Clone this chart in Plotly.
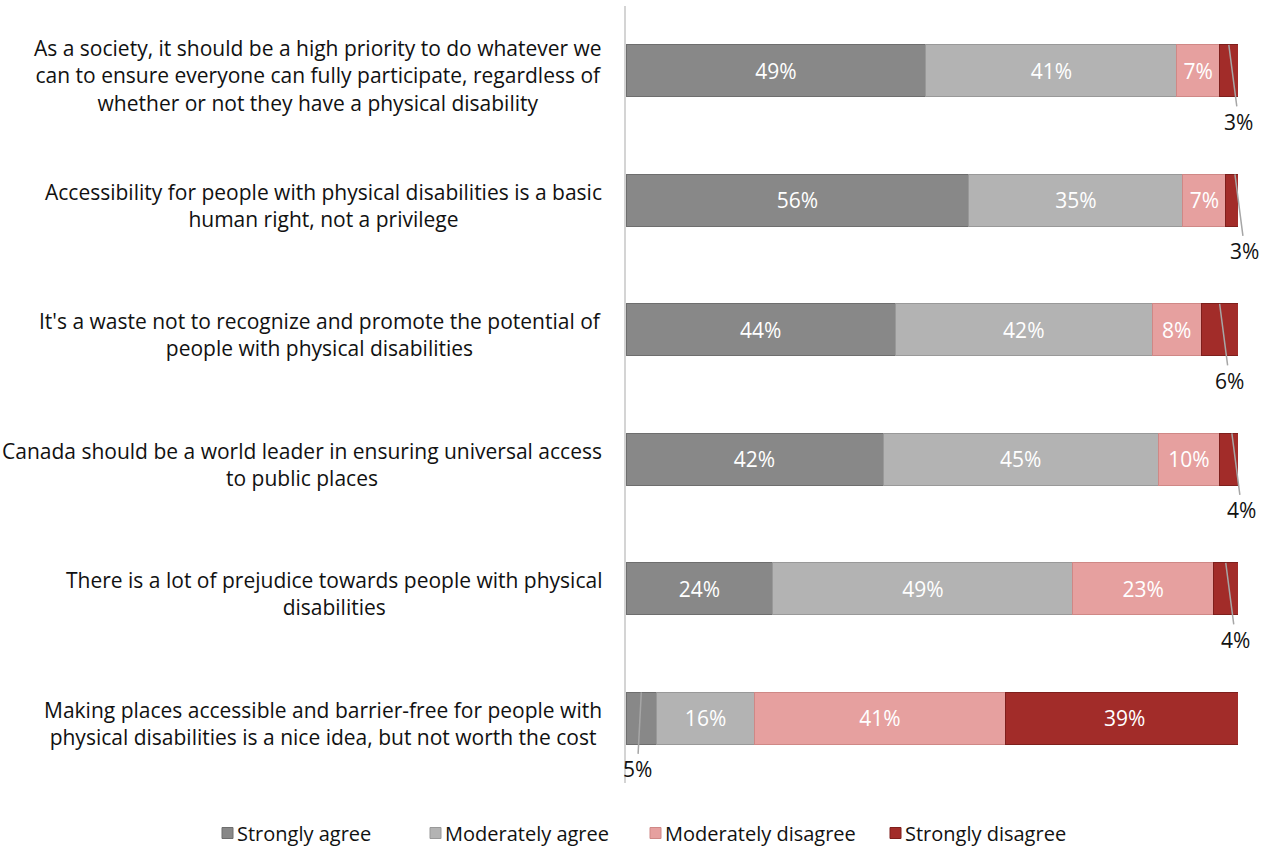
import plotly.graph_objects as go

# Survey statements (top to bottom)
statements = [
    "As a society, it should be a high priority to do whatever we<br>can to ensure everyone can fully participate, regardless of<br>whether or not they have a physical disability",
    "Accessibility for people with physical disabilities is a basic<br>human right, not a privilege",
    "It's a waste not to recognize and promote the potential of<br>people with physical disabilities",
    "Canada should be a world leader in ensuring universal access<br>to public places",
    "There is a lot of prejudice towards people with physical<br>disabilities",
    "Making places accessible and barrier-free for people with<br>physical disabilities is a nice idea, but not worth the cost",
]

series_names = ["Strongly agree", "Moderately agree", "Moderately disagree", "Strongly disagree"]
strongly_agree = [49, 56, 44, 42, 24, 5]
moderately_agree = [41, 35, 42, 45, 49, 16]
moderately_disagree = [7, 7, 8, 10, 23, 41]
strongly_disagree = [3, 3, 6, 4, 4, 39]

series_values = [strongly_agree, moderately_agree, moderately_disagree, strongly_disagree]
colors = ["#888888", "#b3b3b3", "#e6a09f", "#a22c29"]
edge_colors = ["#6e6e6e", "#999999", "#cf8886", "#7e1f1c"]

FONT = "'Open Sans', 'Noto Sans', sans-serif"
FS = 21
LEGEND_FS = 20
TEXT_COLOR = "#111111"
INSIDE_MIN = 7  # smaller segments get an outside label with a leader line

# Layout geometry in pixels
W, H = 1266, 847
ML, MR, MT, MB = 626, 28, 6, 64
PW, PH = W - ML - MR, H - MT - MB

fig = go.Figure()
for name, vals, col, edge in zip(series_names, series_values, colors, edge_colors):
    fig.add_trace(go.Bar(
        y=list(range(len(statements))),
        x=vals,
        orientation="h",
        name=name,
        marker=dict(color=col, line=dict(color=edge, width=1)),
        text=[f"{v}%" if v >= INSIDE_MIN else "" for v in vals],
        textposition="inside",
        insidetextanchor="middle",
        textangle=0,
        textfont=dict(family=FONT, size=FS, color="white"),
        showlegend=False,
        hoverinfo="skip",
    ))

annotations = []

# Statement labels, centred lines, right-aligned block beside the axis
for i, s in enumerate(statements):
    annotations.append(dict(
        x=0, y=i, xref="paper", yref="y",
        text=s, showarrow=False,
        xanchor="right", yanchor="middle", align="center",
        xshift=-22, yshift=-5,
        font=dict(family=FONT, size=FS, color=TEXT_COLOR),
    ))

# Outside labels for narrow segments
for i in range(len(statements)):
    start = 0
    for vals in series_values:
        v = vals[i]
        if v < INSIDE_MIN:
            mid = start + v / 2
            ax = -4 if mid < 50 else 10
            annotations.append(dict(
                x=mid, y=i - 0.2, xref="x", yref="y",
                text=f"{v}%", showarrow=True,
                arrowhead=0, arrowwidth=1.5, arrowcolor="#a6a6a6",
                ax=ax, ay=77, axref="pixel", ayref="pixel",
                font=dict(family=FONT, size=FS, color=TEXT_COLOR),
            ))
        start += v

# Legend drawn as swatches with labels along the bottom
legend_left_px = [222, 430, 650, 890]
legend_y_px = 833
sq = 11
shapes = []
for name, col, edge, lx in zip(series_names, colors, edge_colors, legend_left_px):
    x0 = (lx - ML) / PW
    x1 = (lx + sq - ML) / PW
    y0 = (MT + PH - (legend_y_px + sq / 2)) / PH
    y1 = (MT + PH - (legend_y_px - sq / 2)) / PH
    shapes.append(dict(type="rect", xref="paper", yref="paper",
                       x0=x0, x1=x1, y0=y0, y1=y1,
                       fillcolor=col, line=dict(color=edge, width=1)))
    annotations.append(dict(
        x=(lx + sq + 2 - ML) / PW, y=(MT + PH - legend_y_px) / PH,
        xref="paper", yref="paper", text=name, showarrow=False,
        xanchor="left", yanchor="middle",
        font=dict(family=FONT, size=LEGEND_FS, color=TEXT_COLOR),
    ))

fig.update_layout(
    width=W, height=H,
    margin=dict(l=ML, r=MR, t=MT, b=MB),
    barmode="stack",
    bargap=0.6,
    plot_bgcolor="white",
    paper_bgcolor="white",
    xaxis=dict(range=[0, 100], visible=False, fixedrange=True),
    yaxis=dict(
        range=[len(statements) - 0.5, -0.5],
        showticklabels=False, showgrid=False, zeroline=False,
        showline=True, linecolor="#d4d4d4", linewidth=2,
        ticks="", fixedrange=True,
    ),
    annotations=annotations,
    shapes=shapes,
    uniformtext=dict(minsize=14, mode="show"),
)

fig.write_html("out.html")
